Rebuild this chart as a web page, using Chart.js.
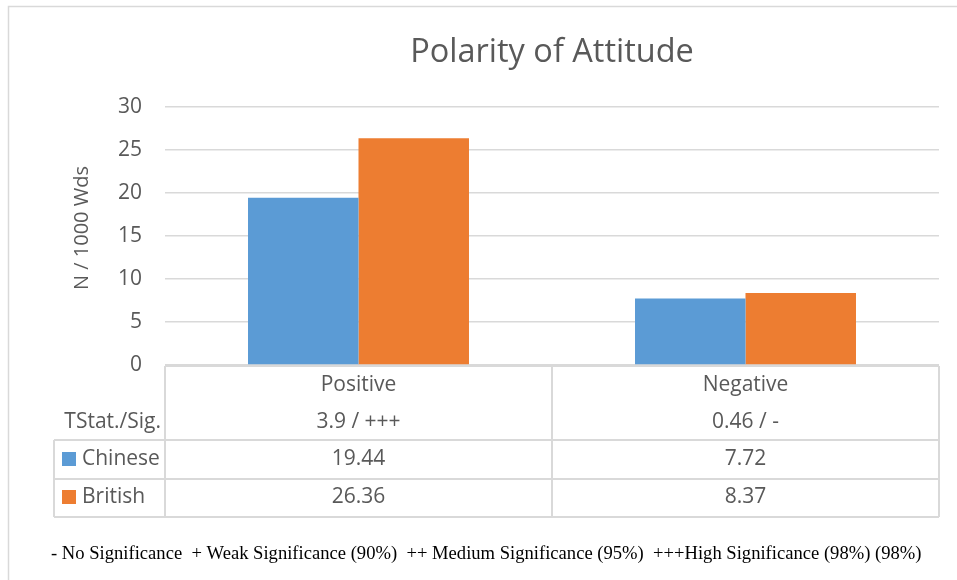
<!DOCTYPE html>
<html>
<head>
<meta charset="utf-8">
<script src="https://cdn.jsdelivr.net/npm/chart.js@4/dist/chart.umd.min.js"></script>
<style>
  body { margin: 0; background: #fff; }
  canvas { display: block; }
</style>
</head>
<body>
<canvas id="polarityChart" width="957" height="580"></canvas>
<script>
  // données du graphique
  const categories = ["Positive", "Negative"];
  const chineseValues = [19.44, 7.72];
  const britishValues = [26.36, 8.37];
  const tstatLabels = ["3.9 / +++", "0.46 / -"];
  const seriesNames = ["Chinese", "British"];
  const seriesColors = ["#5B9BD5", "#ED7D31"];
  const footnote = "- No Significance  + Weak Significance (90%)  ++ Medium Significance (95%)  +++High Significance (98%) (98%)";

  const TEXT = "#595959";
  const LINE = "#d9d9d9";
  const FONT = "'Open Sans', sans-serif";

  /* TABLEAU DE DONNEES SOUS LE GRAPHIQUE */
  const dataTablePlugin = {
    id: "dataTable",
    beforeDraw(chart) {
      const c = chart.ctx;
      c.save();
      c.strokeStyle = LINE;
      c.lineWidth = 1.5;
      c.strokeRect(8.5, 6.5, 1000, 1000);
      c.restore();
    },
    afterDraw(chart) {
      const c = chart.ctx;
      const x = chart.scales.x;
      const area = chart.chartArea;
      const top = area.bottom + 1;
      const row1 = 440, row2 = 479, bottom = 517, legLeft = 54;
      const mid = (x.getPixelForValue(0) + x.getPixelForValue(1)) / 2;

      c.save();
      c.strokeStyle = LINE;
      c.lineWidth = 2;
      c.beginPath();
      // cadre
      c.moveTo(x.left, top); c.lineTo(x.right, top);
      c.moveTo(x.left, top); c.lineTo(x.left, bottom);
      c.moveTo(x.right, top); c.lineTo(x.right, bottom);
      c.moveTo(mid, top); c.lineTo(mid, bottom);
      [row1, row2, bottom].forEach((y) => { c.moveTo(legLeft, y); c.lineTo(x.right, y); });
      c.moveTo(legLeft, row1); c.lineTo(legLeft, bottom);
      c.stroke();

      c.fillStyle = TEXT;
      c.font = "21px " + FONT;
      c.textBaseline = "middle";
      c.textAlign = "center";
      categories.forEach((cat, i) => {
        const cx = x.getPixelForValue(i);
        c.fillText(cat, cx, 385);
        c.fillText(tstatLabels[i], cx, 422);
        c.fillText(chineseValues[i].toFixed(2), cx, 459);
        c.fillText(britishValues[i].toFixed(2), cx, 497);
      });

      c.textAlign = "right";
      c.fillText("TStat./Sig.", 161, 422);

      c.textAlign = "left";
      [459, 497].forEach((y, i) => {
        c.fillStyle = seriesColors[i];
        c.fillRect(62, y - 7, 14, 14);
        c.fillStyle = TEXT;
        c.fillText(seriesNames[i], 82, y);
      });

      // titre de l'axe Y
      c.save();
      c.translate(82, 228);
      c.rotate(-Math.PI / 2);
      c.textAlign = "center";
      c.font = "20px " + FONT;
      c.fillText("N / 1000 Wds", 0, 0);
      c.restore();

      // note en bas
      c.fillStyle = "#000";
      c.font = "18.6px 'Liberation Serif', serif";
      c.fillText(footnote, 51, 554);
      c.restore();
    },
  };

  const ctx = document.getElementById("polarityChart").getContext("2d");
  const chart = new Chart(ctx, {
    type: "bar",
    data: {
      labels: categories,
      datasets: [
        { label: seriesNames[0], data: chineseValues, backgroundColor: seriesColors[0] },
        { label: seriesNames[1], data: britishValues, backgroundColor: seriesColors[1] },
      ],
    },
    options: {
      responsive: false,
      animation: false,
      layout: { padding: { top: 0, right: 18, bottom: 215, left: 0 } },
      datasets: { bar: { categoryPercentage: 0.571, barPercentage: 1 } },
      plugins: {
        legend: { display: false },
        tooltip: { enabled: false },
        title: {
          display: true,
          text: "Polarity of Attitude",
          fullSize: false,
          color: TEXT,
          font: { family: FONT, size: 32.5, weight: "normal" },
          padding: { top: 33, bottom: 35 },
        },
      },
      scales: {
        x: { display: false },
        y: {
          min: 0,
          max: 30,
          ticks: { stepSize: 5, color: TEXT, padding: 23, font: { family: FONT, size: 21 } },
          grid: { color: LINE, lineWidth: 1.5, drawTicks: false },
          border: { display: false },
          afterFit: (s) => { s.width = 165; },
        },
      },
    },
    plugins: [dataTablePlugin],
  });
</script>
</body>
</html>
